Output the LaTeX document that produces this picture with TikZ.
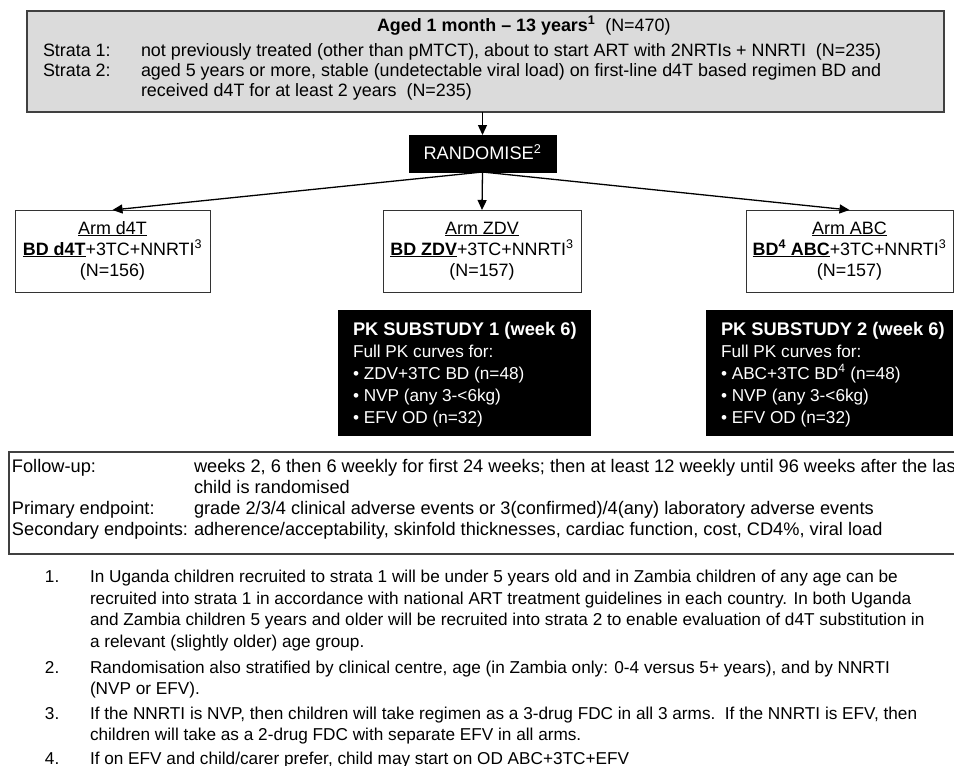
\documentclass[tikz,border=0pt]{standalone}
\usepackage{fontspec}
\setmainfont{Liberation Sans}
\usetikzlibrary{arrows.meta}
\begin{document}
\begin{tikzpicture}[x=1pt,y=-1pt,
  every node/.style={inner sep=0pt,outer sep=0pt},
  tx/.style={font=\fontsize{17.2}{21}\selectfont, anchor=base west, text=black},
  txt/.style={tx, font=\fontsize{17.9}{21}\selectfont},
  txf/.style={tx, font=\fontsize{18.2}{21}\selectfont},
  txc/.style={font=\fontsize{17.9}{21}\selectfont, anchor=base, text=black},
  wt/.style={tx, text=white},
  wtb/.style={tx, text=white, font=\fontsize{18.3}{21}\selectfont\bfseries},
  wtc/.style={txc, text=white, font=\fontsize{18.2}{21}\selectfont},
  gbox/.style={draw=black!75, line width=1.1pt, fill=black!14},
  abox/.style={draw=black!80, line width=1pt, fill=white},
  kbox/.style={draw=black, fill=black},
  arr/.style={line width=1.3pt, -{Triangle[length=10pt,width=9pt]}}
]
\useasboundingbox (0,0) rectangle (954,766);
\clip (0,0) rectangle (954,766);

% top box
\node[gbox, minimum width=917pt, minimum height=101pt] (top) at (485.5,61.5) {};
\node[txt] (title) at (377,31) {\textbf{Aged 1 month – 13 years\textsuperscript{1}}\ \ (N=470)};
\node[txt] (s1l) at (43,56) {Strata 1:};
\node[txt] (s1t) at (141,56) {not previously treated (other than pMTCT), about to start ART with 2NRTIs + NNRTI\ \ (N=235)};
\node[txt] (s2l) at (43,76) {Strata 2:};
\node[txt] (s2t) at (141,76) {aged 5 years or more, stable (undetectable viral load) on first-line d4T based regimen BD and};
\node[txt] (s2u) at (141,96) {received d4T for at least 2 years\ \ (N=235)};

% randomise
\node[kbox, minimum width=147pt, minimum height=37pt] (rand) at (482.5,153.5) {};
\node[wtc] (randt) at (482.5,159.5) {RANDOMISE\textsuperscript{2}};

% arms
\node[abox, minimum width=195pt, minimum height=82pt] (d4t) at (112.5,251) {};
\node[abox, minimum width=198pt, minimum height=82pt] (zdv) at (482,251) {};
\node[abox, minimum width=207pt, minimum height=82pt] (abc) at (849.5,251) {};

\node[txc] (d4ta) at (112.5,234) {\underline{Arm d4T}};
\node[txc] (d4tb) at (112.5,255) {\underline{\textbf{BD d4T}}+3TC+NNRTI\textsuperscript{3}};
\node[txc] (d4tc) at (112.5,276) {(N=156)};

\node[txc] (zdva) at (482,234) {\underline{Arm ZDV}};
\node[txc] (zdvb) at (482,255) {\underline{\textbf{BD ZDV}}+3TC+NNRTI\textsuperscript{3}};
\node[txc] (zdvc) at (482,276) {(N=157)};

\node[txc] (abca) at (849.5,234) {\underline{Arm ABC}};
\node[txc] (abcb) at (849.5,255) {\underline{\textbf{BD\textsuperscript{4} ABC}}+3TC+NNRTI\textsuperscript{3}};
\node[txc] (abcc) at (849.5,276) {(N=157)};

% arrows
\draw[arr] (rand.north |- top.south) -- (rand.north);
\draw[arr] (rand.south) -- (zdv.north);
\draw[arr] (rand.south) -- (d4t.north);
\draw[arr] (rand.south) -- (abc.north);

% PK boxes
\node[kbox, minimum width=252pt, minimum height=125pt] (pk1) at (464,372.5) {};
\node[wtb] (pk1a) at (353,335) {PK SUBSTUDY 1 (week 6)};
\node[wt] (pk1b) at (353,357) {Full PK curves for:};
\node[wt] (pk1c) at (353,379) {• ZDV+3TC BD (n=48)};
\node[wt] (pk1d) at (353,401) {• NVP (any 3-<6kg)};
\node[wt] (pk1e) at (353,423) {• EFV OD (n=32)};

\node[kbox, minimum width=246pt, minimum height=125pt] (pk2) at (829,372.5) {};
\node[wtb] (pk2a) at (721,335) {PK SUBSTUDY 2 (week 6)};
\node[wt] (pk2b) at (721,357) {Full PK curves for:};
\node[wt] (pk2c) at (721,379) {• ABC+3TC BD\textsuperscript{4} (n=48)};
\node[wt] (pk2d) at (721,401) {• NVP (any 3-<6kg)};
\node[wt] (pk2e) at (721,423) {• EFV OD (n=32)};

% follow-up box
\node[draw=black!75, line width=1.1pt, minimum width=970pt, minimum height=102pt] (fu) at (494,503) {};
\node[txf] (fula) at (12,472) {Follow-up:};
\node[txf] (futa) at (194,472) {weeks 2, 6 then 6 weekly for first 24 weeks; then at least 12 weekly until 96 weeks after the last};
\node[txf] (futb) at (194,493) {child is randomised};
\node[txf] (fulb) at (12,514) {Primary endpoint:};
\node[txf] (futc) at (194,514) {grade 2/3/4 clinical adverse events or 3(confirmed)/4(any) laboratory adverse events};
\node[txf] (fulc) at (12,535) {Secondary endpoints:};
\node[txf] (futd) at (194,535) {adherence/acceptability, skinfold thicknesses, cardiac function, cost, CD4\%, viral load};

% footnotes
\node[tx] (n1) at (45,582) {1.};
\node[tx] (f1a) at (90,582) {In Uganda children recruited to strata 1 will be under 5 years old and in Zambia children of any age can be};
\node[tx] (f1b) at (90,604) {recruited into strata 1 in accordance with national ART treatment guidelines in each country. In both Uganda};
\node[tx] (f1c) at (90,625) {and Zambia children 5 years and older will be recruited into strata 2 to enable evaluation of d4T substitution in};
\node[tx] (f1d) at (90,647) {a relevant (slightly older) age group.};
\node[tx] (n2) at (45,673) {2.};
\node[tx] (f2a) at (90,673) {Randomisation also stratified by clinical centre, age (in Zambia only: 0-4 versus 5+ years), and by NNRTI};
\node[tx] (f2b) at (90,694) {(NVP or EFV).};
\node[tx] (n3) at (45,719) {3.};
\node[tx] (f3a) at (90,719) {If the NNRTI is NVP, then children will take regimen as a 3-drug FDC in all 3 arms.\ \ If the NNRTI is EFV, then};
\node[tx] (f3b) at (90,740) {children will take as a 2-drug FDC with separate EFV in all arms.};
\node[tx] (n4) at (45,764) {4.};
\node[tx] (f4a) at (90,764) {If on EFV and child/carer prefer, child may start on OD ABC+3TC+EFV};
\end{tikzpicture}
\end{document}
